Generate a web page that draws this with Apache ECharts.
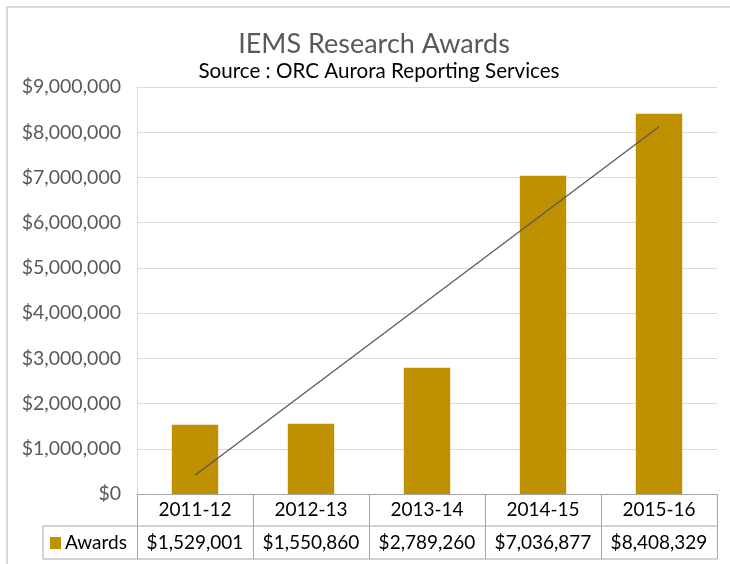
<!DOCTYPE html>
<html>
<head>
<meta charset="utf-8">
<script src="https://cdn.jsdelivr.net/npm/echarts@6/dist/echarts.min.js"></script>
<style>
  html, body { margin: 0; padding: 0; background: #fff; }
  #chart { width: 730px; height: 564px; }
</style>
</head>
<body>
<div id="chart"></div>
<script>
// data
var years = ['2011-12', '2012-13', '2013-14', '2014-15', '2015-16'];
var awards = [1529001, 1550860, 2789260, 7036877, 8408329];
// linear trendline, ends
var trend = [415000, '-', '-', '-', 8120000];

var FONT = 'Lato';
var plotL = 137, plotR = 717, axisY = 494, row1 = 526, row2 = 559, tableL = 43;

function money(v) { return '$' + v.toLocaleString('en-US'); }

var chart = echarts.init(document.getElementById('chart'));
chart.setOption({
  animation: false,
  textStyle: { fontFamily: FONT },
  title: [
    { text: 'IEMS Research Awards', left: 369, top: 26, textAlign: 'center',
      textStyle: { fontFamily: FONT, fontSize: 27, fontWeight: 'normal', color: '#595959' } },
    { text: 'Source : ORC Aurora Reporting Services', left: 374, top: 56, textAlign: 'center',
      textStyle: { fontFamily: FONT, fontSize: 20.6, fontWeight: 'normal', color: '#000' } }
  ],
  legend: {
    data: ['Awards'], left: 45, top: 526, icon: 'rect', itemWidth: 11, itemHeight: 12, itemGap: 4,
    textStyle: { fontFamily: FONT, fontSize: 19, color: '#000', lineHeight: 24, padding: [0, 0, 0, -1] }
  },
  grid: { left: plotL, right: 730 - plotR, top: 87, bottom: 564 - axisY, containLabel: false },
  xAxis: {
    type: 'category', data: years,
    axisLine: { lineStyle: { color: '#a6a6a6', width: 1 } },
    axisTick: { show: true, length: row2 - axisY, lineStyle: { color: '#a6a6a6' } },
    axisLabel: {
      interval: 0, margin: 0,
      formatter: function (v, i) { return '{c|' + v + '}\n{v|' + money(awards[i]) + '}'; },
      rich: {
        c: { fontFamily: FONT, fontSize: 19, color: '#000', lineHeight: 32 },
        v: { fontFamily: FONT, fontSize: 19, color: '#000', lineHeight: 33 }
      }
    }
  },
  yAxis: {
    type: 'value', min: 0, max: 9000000, interval: 1000000,
    axisLine: { show: true, lineStyle: { color: '#d9d9d9' } },
    axisTick: { show: false },
    splitLine: { lineStyle: { color: '#d9d9d9', width: 1 } },
    axisLabel: { formatter: money, fontFamily: FONT, fontSize: 19.5, color: '#595959', margin: 16 }
  },
  graphic: [
    { type: 'rect', silent: true, shape: { x: 7, y: 7, width: 760, height: 600 },
      style: { fill: 'none', stroke: '#d9d9d9', lineWidth: 2 } },
    { type: 'line', silent: true, shape: { x1: tableL, y1: row1, x2: plotR, y2: row1 },
      style: { stroke: '#a6a6a6', lineWidth: 1 } },
    { type: 'line', silent: true, shape: { x1: tableL, y1: row2, x2: plotR, y2: row2 },
      style: { stroke: '#a6a6a6', lineWidth: 1 } },
    { type: 'line', silent: true, shape: { x1: tableL, y1: row1, x2: tableL, y2: row2 },
      style: { stroke: '#a6a6a6', lineWidth: 1 } }
  ],
  series: [
    { name: 'Awards', type: 'bar', data: awards, barWidth: '40%', itemStyle: { color: '#bf9000' } },
    { name: 'Trend', type: 'line', data: trend, connectNulls: true, symbol: 'none',
      lineStyle: { color: '#555555', width: 1.2 }, z: 5 }
  ]
});
</script>
</body>
</html>
